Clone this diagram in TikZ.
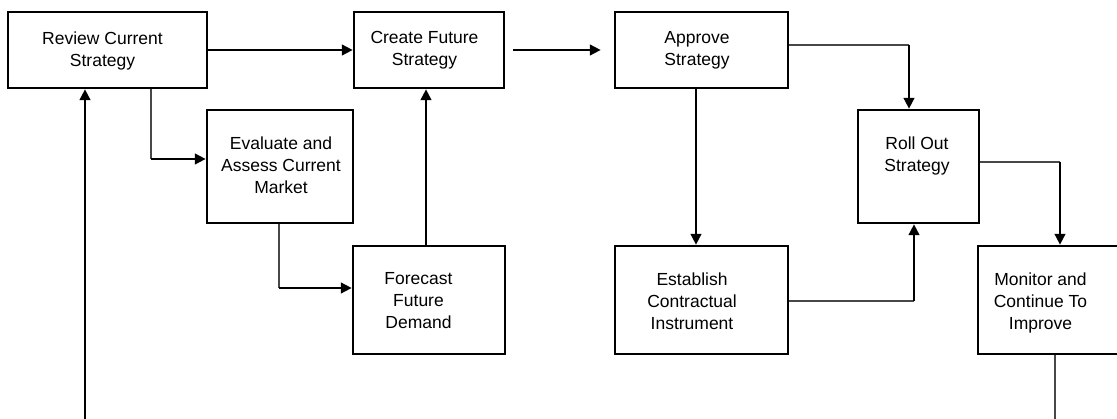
\documentclass[tikz,border=0pt]{standalone}
\usepackage{fontspec}
\setmainfont{Liberation Sans}
\usetikzlibrary{arrows.meta,calc}

\tikzset{
  box/.style={draw, rectangle, line width=2.4pt, inner sep=0pt},
  lbl/.style={align=center, inner sep=0pt, font=\fontsize{17.5}{22}\selectfont},
  flow/.style={line width=2.6pt, -{Triangle[length=11pt,width=10.5pt]}},
  feed/.style={line width=1.2pt, draw=black!72},
}

\begin{document}
\begin{tikzpicture}[x=1pt,y=-1pt]
\useasboundingbox (0,0) rectangle (1117,419);

% process boxes
\node[box, minimum width=199pt, minimum height=76pt]  (review)    at (107.5,50)  {};
\node[box, minimum width=150pt, minimum height=76pt]  (create)    at (429,50)    {};
\node[box, minimum width=173pt, minimum height=76pt]  (approve)   at (701.5,50)  {};
\node[box, minimum width=146pt, minimum height=113pt] (evaluate)  at (280,166.5) {};
\node[box, minimum width=152pt, minimum height=108pt] (forecast)  at (429,300)   {};
\node[box, minimum width=121pt, minimum height=113pt] (rollout)   at (918.5,166.5) {};
\node[box, minimum width=173pt, minimum height=108pt] (establish) at (701.5,300) {};
\node[box, minimum width=147pt, minimum height=108pt] (monitor)   at (1051.5,300) {};

% box captions
\node[lbl] (review-t)    at ($(review)+(-5,1)$)      {Review Current\\Strategy};
\node[lbl] (create-t)    at ($(create)+(-4.5,0.4)$)  {Create Future\\Strategy};
\node[lbl] (approve-t)   at ($(approve)+(-4.5,0.4)$) {Approve\\Strategy};
\node[lbl] (evaluate-t)  at ($(evaluate)+(1,-1.5)$)  {Evaluate and\\Assess Current\\Market};
\node[lbl] (forecast-t)  at ($(forecast)+(-10.5,0.5)$) {Forecast\\Future\\Demand};
\node[lbl] (rollout-t)   at ($(rollout)+(-1.5,-10.5)$) {Roll Out\\Strategy};
\node[lbl] (establish-t) at ($(establish)+(-9.5,1)$) {Establish\\Contractual\\Instrument};
\node[lbl] (monitor-t)   at ($(monitor)+(-11,3)$)    {Monitor and\\Continue To\\Improve};

% bend points of the elbow connectors
\coordinate (k1) at (151,159);
\coordinate (k2) at (279,288);
\coordinate (k3) at (909,45);
\coordinate (k4) at (914,301);
\coordinate (k5) at (1060,162);
\coordinate (up) at (426,0);
\coordinate (down) at (696,0);
\coordinate (loopin) at (85,430);
\coordinate (loopout) at (1055,430);

% straight flows
\draw[flow] (review.east) -- (create.west);
\draw[flow] ([xshift=8pt]create.east) -- ([xshift=-13pt]approve.west);
\draw[flow] (forecast.north -| up) -- (create.south -| up);
\draw[flow] (approve.south -| down) -- (establish.north -| down);

% elbow flows: thin lead-out, heavy arrow leg
\draw[feed] (review.south -| k1) -- (k1);
\draw[flow] (k1) -- (evaluate.west |- k1);

\draw[feed] (evaluate.south -| k2) -- (k2);
\draw[flow] (k2) -- (forecast.west |- k2);

\draw[feed] (approve.east |- k3) -- (k3);
\draw[flow] (k3) -- (rollout.north -| k3);

\draw[feed] (establish.east |- k4) -- (k4);
\draw[flow] (k4) -- (rollout.south -| k4);

\draw[feed] (rollout.east |- k5) -- (k5);
\draw[flow] (k5) -- (monitor.north -| k5);

% continuation of the cycle
\draw[feed] (monitor.south -| loopout) -- (loopout);
\draw[flow] (loopin) -- (review.south -| loopin);
\end{tikzpicture}
\end{document}
